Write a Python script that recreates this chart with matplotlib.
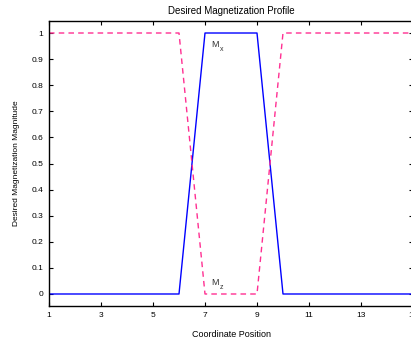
import matplotlib
matplotlib.use("Agg")
import matplotlib.pyplot as plt
import numpy as np

plt.rcParams['font.family'] = ['Liberation Sans', 'DejaVu Sans']

x = list(range(1, 16))
mx = [0, 0, 0, 0, 0, 0, 1, 1, 1, 0, 0, 0, 0, 0, 0]
mz = [1, 1, 1, 1, 1, 1, 0, 0, 0, 1, 1, 1, 1, 1, 1]
xticks = [1, 3, 5, 7, 9, 11, 13, 15]
yticks = [0, 0.1, 0.2, 0.3, 0.4, 0.5, 0.6, 0.7, 0.8, 0.9, 1]

fig = plt.figure(figsize=(4.11, 3.42), dpi=100)
ax = fig.add_axes([49/411, 36/342, 364/411, 285/342])
ax.plot(x, mx, color='#0000ff', lw=1.0)
ax.plot(x, mz, color='#ff2f92', lw=1.0, ls=(0, (4, 3)))
ax.set_xlim(1, 15)
ax.set_ylim(-0.046, 1.046)
ax.set_xticks(xticks)
ax.set_xticklabels([str(t) for t in xticks])
ax.set_yticks(yticks)
ax.set_yticklabels(['0', '0.1', '0.2', '0.3', '0.4', '0.5', '0.6', '0.7', '0.8', '0.9', '1'])
ax.tick_params(direction='in', length=3, width=0.8, labelsize=6, top=True, right=True, pad=4)
for s in ax.spines.values():
    s.set_linewidth(1.0)
ax.set_title('Desired Magnetization Profile', fontsize=7, pad=5)
ax.set_xlabel('Coordinate Position', fontsize=6.5, labelpad=8)
ax.set_ylabel('Desired Magnetization Magnitude', fontsize=6, labelpad=8)
ax.text(7.25, 0.955, 'M', fontsize=6.5, color='#333333', va='center', ha='left')
ax.text(7.58, 0.935, 'x', fontsize=5, color='#333333', va='center', ha='left')
ax.text(7.25, 0.045, 'M', fontsize=6.5, color='#333333', va='center', ha='left')
ax.text(7.58, 0.025, 'z', fontsize=5, color='#333333', va='center', ha='left')
fig.savefig('out.png', dpi=100)
